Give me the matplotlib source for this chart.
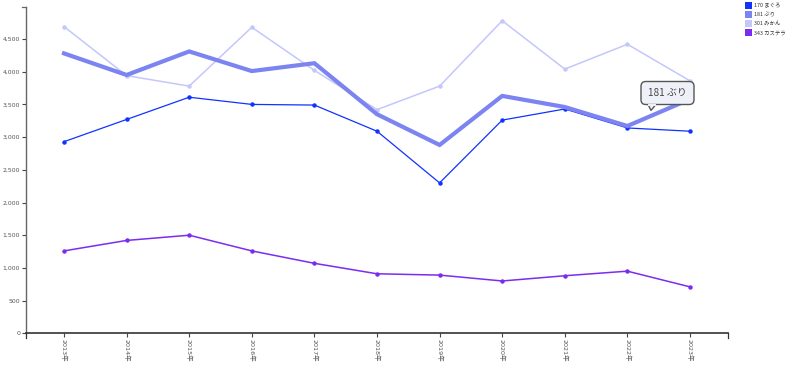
import matplotlib
matplotlib.use("Agg")
import matplotlib.pyplot as plt
from matplotlib.patches import FancyBboxPatch, Polygon, Rectangle
from matplotlib.lines import Line2D

plt.rcParams['font.family'] = ['DejaVu Sans', 'Noto Sans CJK JP']

years = ["2013年", "2014年", "2015年", "2016年", "2017年", "2018年",
         "2019年", "2020年", "2021年", "2022年", "2023年"]
series_names = ["170 まぐろ", "181 ぶり", "301 みかん", "343 カステラ"]
maguro = [2930, 3270, 3610, 3500, 3490, 3090, 2300, 3260, 3430, 3140, 3090]
buri = [4280, 3950, 4310, 4010, 4130, 3350, 2880, 3630, 3460, 3170, 3580]
mikan = [4690, 3940, 3780, 4680, 4020, 3420, 3780, 4780, 4040, 4420, 3860]
castella = [1260, 1420, 1500, 1260, 1070, 910, 890, 800, 880, 950, 710]
yticks = [0, 500, 1000, 1500, 2000, 2500, 3000, 3500, 4000, 4500]
tooltip_text = "181 ぶり"

colors = ["#1133ff", "#7b84f0", "#c4c7fb", "#7b2cf0"]

W, H = 800, 365
fig = plt.figure(figsize=(W / 100, H / 100), dpi=100)


def fx(x):
    return x / W


def fy(y):
    return 1 - y / H


ax = fig.add_axes([fx(26), fy(333.3), fx(728) - fx(26), fy(7.3) - fy(333.3)])
xs = list(range(len(years)))

ax.plot(xs, mikan, color=colors[2], lw=1.1, marker='o', ms=2.2, zorder=2)
ax.plot(xs, castella, color=colors[3], lw=1.1, marker='o', ms=2.2, zorder=2)
ax.plot(xs, maguro, color=colors[0], lw=0.9, marker='o', ms=2.2, zorder=3)
ax.plot(xs, buri, color=colors[1], lw=3.0, solid_joinstyle='miter', zorder=4)

ax.set_xlim(-0.607, 10.607)
ax.set_ylim(0, 4985)
ax.set_xticks(xs)
ax.set_xticklabels(years, rotation=-90, fontsize=4.6, color='#555555',
                   family=['DejaVu Sans', 'Noto Sans CJK JP'])
ax.set_yticks(yticks)
ax.set_yticklabels([f"{v:,}" for v in yticks], fontsize=4.4, color='#555555')
ax.tick_params(axis='both', length=3.0, width=0.8, color='#444444', pad=1.2)

for s in ['top', 'right']:
    ax.spines[s].set_visible(False)
ax.spines['left'].set_color('#666666')
ax.spines['bottom'].set_color('#333333')
ax.spines['left'].set_linewidth(1.0)
ax.spines['bottom'].set_linewidth(1.2)

# outer ticks at domain ends
fig.add_artist(Line2D([fx(22), fx(26)], [fy(7.3), fy(7.3)], color='#666666', lw=0.9))
fig.add_artist(Line2D([fx(26), fx(26)], [fy(333.3), fy(337.5)], color='#333333', lw=0.9))
fig.add_artist(Line2D([fx(728), fx(728)], [fy(333.3), fy(337.5)], color='#333333', lw=0.9))

# legend
for i, (name, c) in enumerate(zip(series_names, colors)):
    y0 = 2 + i * 9
    fig.add_artist(Rectangle((fx(745), fy(y0 + 7)), fx(6.5), 7 / H, fc=c, ec='none'))
    fig.text(fx(754.5), fy(y0 + 3.6), name, fontsize=3.9, color='#333333', va='center',
             ha='left', family=['Noto Sans CJK JP', 'DejaVu Sans'])

# tooltip
box = FancyBboxPatch((fx(641), fy(104.5)), fx(53), (104.5 - 81.5) / H,
                     boxstyle="round,pad=0,rounding_size=0.006",
                     fc='#eef2f8', ec='#555555', lw=1.0, zorder=10,
                     transform=fig.transFigure, mutation_aspect=W / H)
fig.add_artist(box)
tri = Polygon([(fx(648), fy(104.3)), (fx(651), fy(110.5)), (fx(656), fy(104.3))],
              closed=False, fc='#eef2f8', ec='#555555', lw=1.0, zorder=11,
              transform=fig.transFigure)
fig.add_artist(tri)
fig.add_artist(Line2D([fx(648.6), fx(655.4)], [fy(104.5), fy(104.5)], color='#eef2f8',
                      lw=1.4, zorder=12))
fig.text(fx(667.5), fy(93), tooltip_text, fontsize=7.2, color='#444444', ha='center',
         va='center', family=['Noto Sans CJK JP', 'DejaVu Sans'], zorder=13)

fig.savefig("out.png", dpi=100, facecolor='white')
